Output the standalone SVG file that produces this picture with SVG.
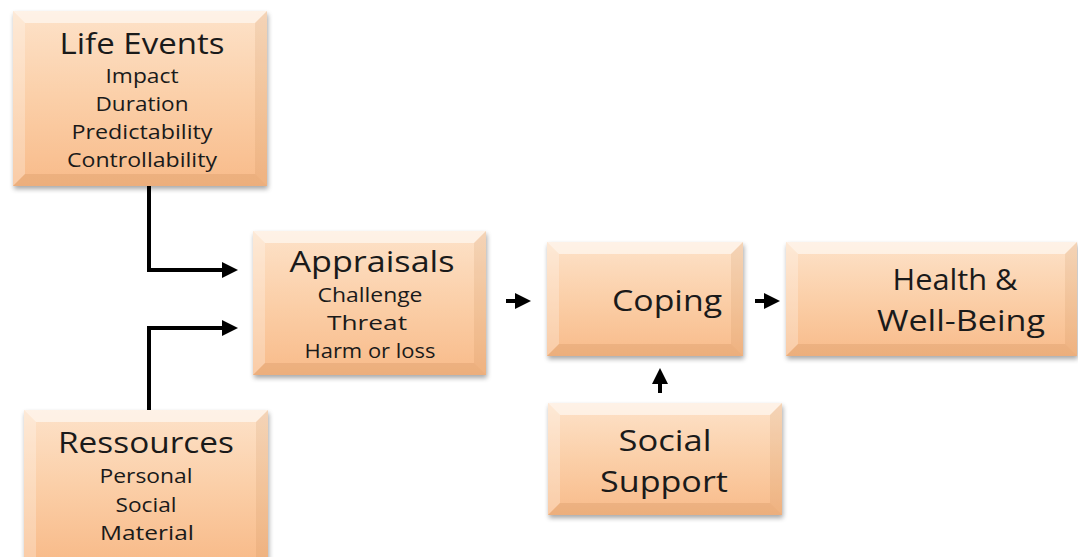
<svg xmlns="http://www.w3.org/2000/svg" width="1078" height="557" viewBox="0 0 1078 557">
<defs>
<linearGradient id="fill" x1="0" y1="0" x2="0" y2="1">
<stop offset="0" stop-color="#fde2c9"/>
<stop offset="0.5" stop-color="#fbcfa8"/>
<stop offset="1" stop-color="#f8bb8a"/>
</linearGradient>
<filter id="sh" x="-10%" y="-10%" width="130%" height="130%">
<feGaussianBlur in="SourceAlpha" stdDeviation="2.5"/>
<feOffset dx="1" dy="3"/>
<feComponentTransfer><feFuncA type="linear" slope="0.35"/></feComponentTransfer>
<feMerge><feMergeNode/><feMergeNode in="SourceGraphic"/></feMerge>
</filter>
<marker id="ah" markerWidth="4" markerHeight="4" refX="3" refY="2" orient="auto" markerUnits="strokeWidth">
<path d="M0,0 L4,2 L0,4 Z" fill="#000"/>
</marker>
</defs>
<style>
.box{fill:url(#fill);filter:url(#sh)}
.bt{fill:#ffffff;opacity:0.55}
.bl{fill:#ffffff;opacity:0.25}
.br{fill:#b8723c;opacity:0.12}
.bb{fill:#b8723c;opacity:0.18}
.t{font-family:"Open Sans","Liberation Sans",sans-serif;fill:#1a1a1a;text-anchor:middle}
.h{font-size:30px}
.s{font-size:20px}
.c{stroke:#000;stroke-width:4;fill:none}
</style>
<rect width="1078" height="557" fill="#fff"/>

<g id="connectors">
<polyline class="c" points="149,186 149,270 234,270" marker-end="url(#ah)"/>
<polyline class="c" points="149,412 149,328 234,328" marker-end="url(#ah)"/>
<line class="c" x1="506" y1="301" x2="527" y2="301" marker-end="url(#ah)"/>
<line class="c" x1="755" y1="301" x2="776" y2="301" marker-end="url(#ah)"/>
<line class="c" x1="660" y1="393" x2="660" y2="372" marker-end="url(#ah)"/>
</g>

<g id="life-events">
<rect class="box" x="13" y="11" width="254" height="175"/>
<polygon class="bt" points="13,11 267,11 255,23 25,23"/>
<polygon class="bl" points="13,11 25,23 25,174 13,186"/>
<polygon class="br" points="267,11 267,186 255,174 255,23"/>
<polygon class="bb" points="13,186 25,174 255,174 267,186"/>
<text class="t h" x="142" y="54" textLength="165" lengthAdjust="spacingAndGlyphs">Life Events</text>
<text class="t s" x="142" y="83" textLength="73" lengthAdjust="spacingAndGlyphs">Impact</text>
<text class="t s" x="142" y="111" textLength="93" lengthAdjust="spacingAndGlyphs">Duration</text>
<text class="t s" x="142" y="139" textLength="141" lengthAdjust="spacingAndGlyphs">Predictability</text>
<text class="t s" x="142" y="167" textLength="150" lengthAdjust="spacingAndGlyphs">Controllability</text>
</g>

<g id="appraisals">
<rect class="box" x="253" y="231" width="233" height="144"/>
<polygon class="bt" points="253,231 486,231 474,243 265,243"/>
<polygon class="bl" points="253,231 265,243 265,363 253,375"/>
<polygon class="br" points="486,231 486,375 474,363 474,243"/>
<polygon class="bb" points="253,375 265,363 474,363 486,375"/>
<text class="t h" x="372" y="272" textLength="165" lengthAdjust="spacingAndGlyphs">Appraisals</text>
<text class="t s" x="370" y="302" textLength="105" lengthAdjust="spacingAndGlyphs">Challenge</text>
<text class="t s" x="367" y="330" textLength="80" lengthAdjust="spacingAndGlyphs">Threat</text>
<text class="t s" x="370" y="358" textLength="131" lengthAdjust="spacingAndGlyphs">Harm or loss</text>
</g>

<g id="coping">
<rect class="box" x="547" y="242" width="196" height="114"/>
<polygon class="bt" points="547,242 743,242 731,254 559,254"/>
<polygon class="bl" points="547,242 559,254 559,344 547,356"/>
<polygon class="br" points="743,242 743,356 731,344 731,254"/>
<polygon class="bb" points="547,356 559,344 731,344 743,356"/>
<text class="t h" x="667" y="311" textLength="110" lengthAdjust="spacingAndGlyphs">Coping</text>
</g>

<g id="health">
<rect class="box" x="786" y="242" width="291" height="114"/>
<polygon class="bt" points="786,242 1077,242 1065,254 798,254"/>
<polygon class="bl" points="786,242 798,254 798,344 786,356"/>
<polygon class="br" points="1077,242 1077,356 1065,344 1065,254"/>
<polygon class="bb" points="786,356 798,344 1065,344 1077,356"/>
<text class="t h" x="955" y="290" textLength="125" lengthAdjust="spacingAndGlyphs">Health &amp;</text>
<text class="t h" x="961" y="331" textLength="168" lengthAdjust="spacingAndGlyphs">Well-Being</text>
</g>

<g id="social-support">
<rect class="box" x="548" y="403" width="234" height="112"/>
<polygon class="bt" points="548,403 782,403 770,415 560,415"/>
<polygon class="bl" points="548,403 560,415 560,503 548,515"/>
<polygon class="br" points="782,403 782,515 770,503 770,415"/>
<polygon class="bb" points="548,515 560,503 770,503 782,515"/>
<text class="t h" x="665" y="451" textLength="93" lengthAdjust="spacingAndGlyphs">Social</text>
<text class="t h" x="664" y="492" textLength="128" lengthAdjust="spacingAndGlyphs">Support</text>
</g>

<g id="ressources">
<rect class="box" x="24" y="410" width="244" height="150"/>
<polygon class="bt" points="24,410 268,410 256,422 36,422"/>
<polygon class="bl" points="24,410 36,422 36,557 24,557"/>
<polygon class="br" points="268,410 268,557 256,557 256,422"/>
<text class="t h" x="146" y="453" textLength="176" lengthAdjust="spacingAndGlyphs">Ressources</text>
<text class="t s" x="146" y="483" textLength="93" lengthAdjust="spacingAndGlyphs">Personal</text>
<text class="t s" x="146" y="512" textLength="61" lengthAdjust="spacingAndGlyphs">Social</text>
<text class="t s" x="147" y="540" textLength="94" lengthAdjust="spacingAndGlyphs">Material</text>
</g>
</svg>
